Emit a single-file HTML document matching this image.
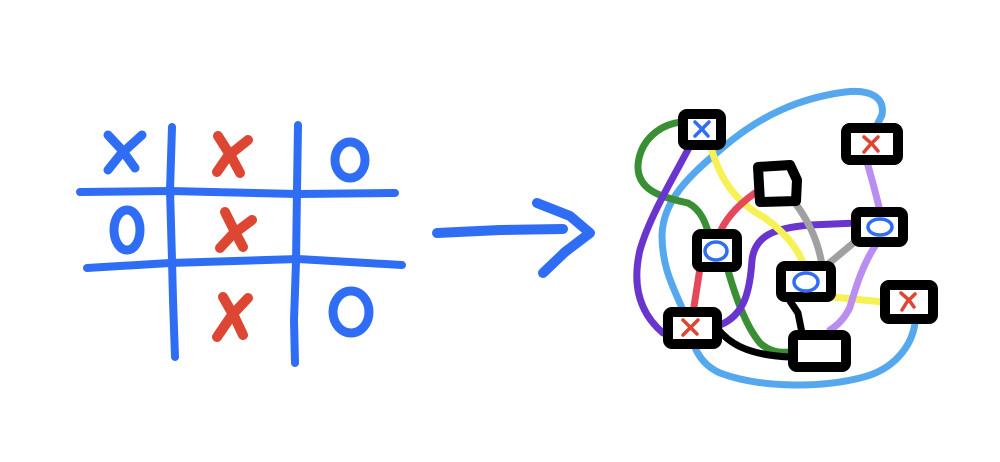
<!DOCTYPE html>
<html><head><style>html,body{margin:0;padding:0;background:#fff}svg{display:block}</style></head>
<body>
<svg width="1000" height="462" viewBox="0 0 1000 462" xmlns="http://www.w3.org/2000/svg">
<g fill="none" stroke-linecap="round" stroke-linejoin="round">
<g stroke="#2f6df5" stroke-width="8">
<polyline points="172,127 170,190 172,260 173,300 175,357"/>
<polyline points="298,125 297,190 296,262 294,320 295,363"/>
<polyline points="80,192 170,191 298,194 395,193"/>
<polyline points="87,268 170,263 298,259 402,265"/>
<g stroke-width="9">
<polyline points="108,135 122,150 135,168"/>
<polyline points="142,135 120,155 108,170"/>
<ellipse cx="350" cy="160" rx="15" ry="18"/>
<ellipse cx="127" cy="230" rx="13" ry="20"/>
<ellipse cx="351" cy="312" rx="18" ry="21"/>
</g>
<polyline stroke-width="10" points="437,233 500,230 563,229"/>
<polyline stroke-width="10" points="537,203 570,216 590,233 565,252 543,273"/>
</g>
<g stroke="#dd4633" stroke-width="10">
<polyline points="218,136 232,158 240,173"/><polyline points="248,140 228,156 217,172"/>
<polyline points="225,212 235,232 243,247"/><polyline points="252,220 232,235 220,248"/>
<polyline points="223,297 235,318 243,335"/><polyline points="248,298 232,315 217,337"/>
</g>
<g stroke-width="7">
<path stroke="#55a8ee" d="M915,323 C912,345 895,370 860,378 C820,388 760,388 720,373 C695,362 692,340 685,315 C675,290 662,270 662,235 C663,200 690,175 720,150 C760,115 800,98 845,92 C870,89 885,97 882,115 L877,125"/>
<path stroke="#3a8f35" d="M682,122 C660,124 640,140 638,165 C637,190 660,197 688,203 C702,210 706,225 710,237"/>
<path stroke="#3a8f35" d="M727,267 C735,295 745,325 760,343 C770,352 780,353 790,352"/>
<path stroke="#6a35cf" d="M692,142 C675,175 650,215 640,250 C633,280 636,310 663,333"/>
<path stroke="#6a35cf" d="M720,325 C745,315 750,290 752,260 C755,235 775,228 810,225 L857,223"/>
<path stroke="#f6f154" d="M710,145 C718,170 728,198 765,218 C788,235 798,250 803,263"/>
<polyline stroke="#f6f154" points="833,297 883,302"/>
<path stroke="#e5485a" d="M755,193 C738,205 724,220 718,237"/>
<polyline stroke="#e5485a" points="700,268 693,313"/>
<path stroke="#a0a0a0" d="M793,200 C808,220 818,240 822,265"/>
<polyline stroke="#a0a0a0" points="827,265 857,240"/>
<path stroke="#b98ef0" d="M867,162 C872,180 877,197 880,212"/>
<path stroke="#b98ef0" d="M877,243 C862,265 855,290 850,307 C845,318 838,325 830,330"/>
<path stroke="#000" d="M717,328 C728,342 745,355 790,357"/>
<polyline stroke="#000" points="788,298 798,313 802,333"/>
</g>
<g stroke="#000" stroke-width="10" fill="#fff">
<rect x="683" y="114" width="38" height="31" rx="4"/>
<rect x="846" y="128" width="52" height="32" rx="4"/>
<path d="M758,167 L790,165 L797,180 L796,201 L760,202 Z"/>
<rect x="856" y="212" width="47" height="30" rx="4"/>
<rect x="697" y="234" width="40" height="33" rx="4"/>
<rect x="781" y="266" width="50" height="31" rx="4"/>
<rect x="885" y="285" width="48" height="34" rx="4"/>
<rect x="668" y="312" width="49" height="32" rx="4"/>
<rect x="793" y="335" width="53" height="32" rx="4"/>
</g>
<g stroke="#2f6df5" stroke-width="3.5">
<polyline points="695,122 702,129 708,136"/><polyline points="709,122 701,130 695,136"/>
<ellipse cx="880" cy="227" rx="12" ry="8"/>
<ellipse cx="716" cy="251" rx="11" ry="9"/>
<ellipse cx="806" cy="282" rx="12" ry="9"/>
</g>
<g stroke="#dd4633" stroke-width="3.5">
<polyline points="864,137 872,144 878,151"/><polyline points="878,137 870,145 864,152"/>
<polyline points="901,293 909,300 914,307"/><polyline points="915,294 907,302 902,310"/>
<polyline points="683,320 690,327 697,334"/><polyline points="698,320 690,328 683,335"/>
</g>
</g>
</svg>
</body></html>
